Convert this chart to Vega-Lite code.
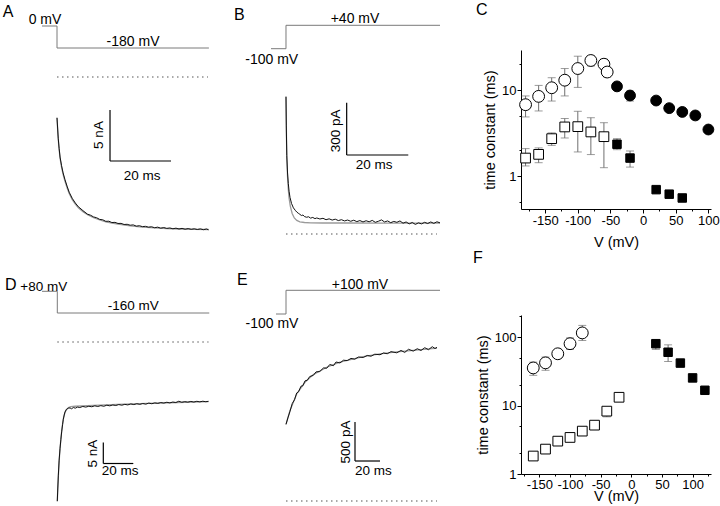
{
"$schema":"https://vega.github.io/schema/vega-lite/v6.json",
"autosize":"pad",
"padding":{"left":0,"top":2,"right":0,"bottom":0},
"background":"white",
"config":{
  "font":"Liberation Sans",
  "view":{"stroke":null},
  "axis":{"domainColor":"black","tickColor":"black","labelColor":"black","titleColor":"black","labelFontSize":13,"titleFontSize":14.5,"titleFontWeight":"normal","grid":false,"labelPadding":1,"labelFlush":false,"labelOverlap":false,"tickWidth":1,"domainWidth":1},
  "axisX":{"labelPadding":1.5,"titlePadding":8},
  "axisY":{"titlePadding":4},
  "title":{"fontSize":16,"fontWeight":"normal","color":"black","anchor":"start","frame":"group"},
  "text":{"color":"black"}
},
"datasets":{
  "A_fit":[{"t":0,"I":-4.0},{"t":0.3,"I":-5.6},{"t":0.6,"I":-6.8},{"t":1.0,"I":-7.95},{"t":1.5,"I":-8.85},{"t":2.0,"I":-9.55},{"t":2.6,"I":-10.2},{"t":3.3,"I":-10.85},{"t":4.0,"I":-11.42},{"t":5.0,"I":-12.02},{"t":6.0,"I":-12.47},{"t":7.0,"I":-12.82},{"t":8.5,"I":-13.2},{"t":10,"I":-13.5},{"t":12,"I":-13.8},{"t":14,"I":-14.02},{"t":16,"I":-14.2},{"t":18,"I":-14.33},{"t":20,"I":-14.43},{"t":24,"I":-14.6},{"t":28,"I":-14.72},{"t":32,"I":-14.8},{"t":36,"I":-14.86},{"t":40,"I":-14.9},{"t":45,"I":-14.93},{"t":49.7,"I":-14.95}],
  "A_rec":[{"t":0,"I":-4.0},{"t":0.2,"I":-5.0},{"t":0.4,"I":-6.0},{"t":0.7,"I":-7.0},{"t":1.0,"I":-7.85},{"t":1.5,"I":-8.7},{"t":2.0,"I":-9.4},{"t":2.6,"I":-10.05},{"t":3.3,"I":-10.7},{"t":4.0,"I":-11.3},{"t":5.0,"I":-11.9},{"t":6.0,"I":-12.35},{"t":7.0,"I":-12.72},{"t":8.5,"I":-13.1},{"t":10,"I":-13.45},{"t":11,"I":-13.55},{"t":12,"I":-13.72},{"t":13,"I":-13.8},{"t":14,"I":-13.96},{"t":15,"I":-14.0},{"t":16,"I":-14.15},{"t":17,"I":-14.14},{"t":18,"I":-14.27},{"t":19,"I":-14.25},{"t":20,"I":-14.36},{"t":21,"I":-14.35},{"t":22,"I":-14.46},{"t":23,"I":-14.44},{"t":24,"I":-14.53},{"t":25,"I":-14.5},{"t":26,"I":-14.62},{"t":27,"I":-14.58},{"t":28,"I":-14.67},{"t":29,"I":-14.64},{"t":30,"I":-14.72},{"t":31,"I":-14.68},{"t":32,"I":-14.78},{"t":33,"I":-14.72},{"t":34,"I":-14.82},{"t":35,"I":-14.76},{"t":36,"I":-14.84},{"t":37,"I":-14.8},{"t":38,"I":-14.88},{"t":39,"I":-14.82},{"t":40,"I":-14.9},{"t":41,"I":-14.84},{"t":42,"I":-14.92},{"t":43,"I":-14.86},{"t":44,"I":-14.93},{"t":45,"I":-14.88},{"t":46,"I":-14.95},{"t":47,"I":-14.89},{"t":48,"I":-14.97},{"t":49,"I":-14.9},{"t":49.7,"I":-14.98}],
  "A_volt":[{"i":0,"t":-4.92,"v":0},{"i":1,"t":0,"v":0},{"i":2,"t":0,"v":-180},{"i":3,"t":49.8,"v":-180}],
  "A_vtext":[{"t":-3.93,"v":18.8,"label":"0 mV"},{"t":24.92,"v":-166.1,"label":"-180 mV"}],
  "A_zero":[{"t":0,"t2":49.5,"I":0}],
  "A_bar":[{"t":17.38,"t2":17.38,"I":-3.235,"I2":-8.235},{"t":17.38,"t2":37.38,"I":-8.235,"I2":-8.235}],
  "A_labels":[{"t":13.7,"I":-5.686,"label":"5 nA","role":"amplitude"},{"t":27.87,"I":-9.7,"label":"20 ms","role":"time"},{"t":-17.8,"I":5.88,"label":"A","role":"panel"}],

  "B_fit":[{"t":0,"I":788},{"t":0.15,"I":560},{"t":0.3,"I":430},{"t":0.5,"I":330},{"t":0.75,"I":255},{"t":1.0,"I":205},{"t":1.4,"I":160},{"t":2.0,"I":118},{"t":2.7,"I":92},{"t":3.5,"I":78},{"t":4.5,"I":70},{"t":6,"I":66},{"t":8,"I":64},{"t":12,"I":63},{"t":20,"I":63},{"t":30,"I":62},{"t":40,"I":62},{"t":50,"I":62}],
  "B_rec":[{"t":0,"I":788},{"t":0.1,"I":620},{"t":0.25,"I":450},{"t":0.5,"I":350},{"t":0.75,"I":290},{"t":1.0,"I":245},{"t":1.3,"I":210},{"t":1.8,"I":175},{"t":2.4,"I":150},{"t":3.0,"I":136},{"t":3.5,"I":126},{"t":4.0,"I":119},{"t":4.5,"I":113},{"t":5.0,"I":106},{"t":5.5,"I":109},{"t":6.0,"I":100},{"t":6.7,"I":96},{"t":7.3,"I":99},{"t":8.0,"I":91},{"t":8.7,"I":95},{"t":9.4,"I":88},{"t":10,"I":92},{"t":11,"I":86},{"t":12,"I":90},{"t":13,"I":82},{"t":14,"I":87},{"t":15,"I":80},{"t":16,"I":85},{"t":17,"I":77},{"t":18,"I":82},{"t":19,"I":75},{"t":20,"I":80},{"t":21,"I":73},{"t":22,"I":79},{"t":23,"I":71},{"t":24,"I":77},{"t":25,"I":69},{"t":26,"I":76},{"t":27,"I":70},{"t":28,"I":78},{"t":29,"I":67},{"t":30,"I":73},{"t":31,"I":81},{"t":32,"I":69},{"t":33,"I":75},{"t":34,"I":65},{"t":35,"I":72},{"t":36,"I":67},{"t":37,"I":75},{"t":38,"I":62},{"t":39,"I":69},{"t":40,"I":58},{"t":41,"I":66},{"t":42,"I":55},{"t":43,"I":64},{"t":44,"I":58},{"t":45,"I":67},{"t":46,"I":60},{"t":47,"I":69},{"t":48,"I":61},{"t":49,"I":70},{"t":50,"I":64}],
  "B_volt":[{"i":0,"t":-4.87,"v":-100},{"i":1,"t":0,"v":-100},{"i":2,"t":0,"v":40},{"i":3,"t":50,"v":40}],
  "B_vtext":[{"t":22.4,"v":50.8,"label":"+40 mV"},{"t":-4.64,"v":-189.7,"label":"-100 mV"}],
  "B_zero":[{"t":0,"t2":49,"I":0}],
  "B_bar":[{"t":19.7,"t2":19.7,"I":753.3,"I2":453.2},{"t":19.7,"t2":39.7,"I":453.2,"I2":453.2}],
  "B_labels":[{"t":16.2,"I":592,"label":"300 pA","role":"amplitude"},{"t":28.6,"I":395.9,"label":"20 ms","role":"time"},{"t":-16.88,"I":1227.8,"label":"B","role":"panel"}],

  "D_fit":[{"t":0,"I":-37.9},{"t":0.3,"I":-35.2},{"t":0.7,"I":-32.0},{"t":1.2,"I":-28.5},{"t":1.8,"I":-25.5},{"t":2.4,"I":-23.0},{"t":3.0,"I":-21.0},{"t":3.6,"I":-19.3},{"t":4.2,"I":-18.0},{"t":5.0,"I":-16.9},{"t":6.0,"I":-16.1},{"t":7.5,"I":-15.6},{"t":9,"I":-15.4},{"t":12,"I":-15.3},{"t":20,"I":-15.15},{"t":40,"I":-14.85},{"t":60,"I":-14.6},{"t":80,"I":-14.4},{"t":100.8,"I":-14.2}],
  "D_rec":[{"t":0,"I":-37.9},{"t":0.3,"I":-35.0},{"t":0.7,"I":-31.7},{"t":1.2,"I":-28.3},{"t":1.8,"I":-25.4},{"t":2.4,"I":-23.2},{"t":2.9,"I":-21.4},{"t":3.5,"I":-19.7},{"t":4.0,"I":-18.4},{"t":4.6,"I":-17.4},{"t":5.1,"I":-16.7},{"t":6,"I":-16.1},{"t":7.3,"I":-15.75},{"t":8.5,"I":-15.7},{"t":9.5,"I":-15.9},{"t":10.7,"I":-15.6},{"t":12,"I":-15.75},{"t":13.5,"I":-15.5},{"t":15,"I":-15.6},{"t":17,"I":-15.35},{"t":19,"I":-15.5},{"t":21,"I":-15.3},{"t":23,"I":-15.42},{"t":25,"I":-15.2},{"t":27,"I":-15.35},{"t":29,"I":-15.15},{"t":31,"I":-15.3},{"t":33,"I":-15.05},{"t":35,"I":-15.2},{"t":37,"I":-15.0},{"t":39,"I":-15.12},{"t":41,"I":-14.9},{"t":43,"I":-15.05},{"t":45,"I":-14.85},{"t":47,"I":-14.98},{"t":49,"I":-14.75},{"t":51,"I":-14.9},{"t":53,"I":-14.7},{"t":55,"I":-14.85},{"t":57,"I":-14.65},{"t":59,"I":-14.8},{"t":61,"I":-14.55},{"t":63,"I":-14.7},{"t":65,"I":-14.5},{"t":67,"I":-14.62},{"t":69,"I":-14.42},{"t":71,"I":-14.55},{"t":73,"I":-14.35},{"t":75,"I":-14.5},{"t":77,"I":-14.3},{"t":79,"I":-14.42},{"t":81,"I":-14.1},{"t":83,"I":-14.35},{"t":85,"I":-14.2},{"t":87,"I":-14.32},{"t":89,"I":-14.15},{"t":91,"I":-14.3},{"t":93,"I":-14.12},{"t":95,"I":-14.25},{"t":97,"I":-14.1},{"t":99,"I":-14.22},{"t":100.8,"I":-14.12}],
  "D_volt":[{"i":0,"t":-10.2,"v":80},{"i":1,"t":0,"v":80},{"i":2,"t":0,"v":-160},{"i":3,"t":101.3,"v":-160}],
  "D_vtext":[{"t":-9.07,"v":83.3,"label":"+80 mV"},{"t":50.67,"v":-130.1,"label":"-160 mV"}],
  "D_zero":[{"t":0,"t2":100.8,"I":0}],
  "D_bar":[{"t":30.67,"t2":30.67,"I":-23.93,"I2":-28.93},{"t":30.67,"t2":50.67,"I":-28.93,"I2":-28.93}],
  "D_labels":[{"t":24.0,"I":-26.6,"label":"5 nA","role":"amplitude"},{"t":41.8,"I":-30.79,"label":"20 ms","role":"time"},{"t":-34.87,"I":12.38,"label":"D","role":"panel"}],

  "E_fit":[{"t":0,"I":983},{"t":3.2,"I":1160},{"t":8.56,"I":1372},{"t":15.2,"I":1522},{"t":21.8,"I":1620},{"t":32.6,"I":1715},{"t":43.2,"I":1780},{"t":61.8,"I":1852},{"t":75.2,"I":1886},{"t":88.6,"I":1912},{"t":101.8,"I":1932},{"t":119.2,"I":1958},{"t":120.8,"I":1960}],
  "E_rec":[{"t":0,"I":983},{"t":1.5,"I":1065},{"t":3.2,"I":1150},{"t":5,"I":1250},{"t":6.8,"I":1298},{"t":8.56,"I":1385},{"t":10,"I":1400},{"t":12,"I":1472},{"t":13.5,"I":1478},{"t":15.2,"I":1540},{"t":17,"I":1548},{"t":19,"I":1596},{"t":21.8,"I":1610},{"t":24,"I":1655},{"t":27,"I":1660},{"t":30,"I":1706},{"t":32.6,"I":1702},{"t":35,"I":1750},{"t":38,"I":1735},{"t":40,"I":1782},{"t":43.2,"I":1770},{"t":46,"I":1805},{"t":49,"I":1800},{"t":52,"I":1828},{"t":55,"I":1818},{"t":58,"I":1846},{"t":61.8,"I":1840},{"t":65,"I":1866},{"t":68,"I":1856},{"t":71,"I":1882},{"t":75.2,"I":1875},{"t":78,"I":1898},{"t":81,"I":1888},{"t":84,"I":1915},{"t":88.6,"I":1900},{"t":92,"I":1930},{"t":95,"I":1905},{"t":98,"I":1945},{"t":101.8,"I":1922},{"t":105,"I":1952},{"t":108,"I":1930},{"t":111,"I":1965},{"t":114,"I":1940},{"t":117,"I":1978},{"t":119.2,"I":1955},{"t":120.8,"I":1970}],
  "E_volt":[{"i":0,"t":-8,"v":-100},{"i":1,"t":0,"v":-100},{"i":2,"t":0,"v":100},{"i":3,"t":123.2,"v":100}],
  "E_vtext":[{"t":59.2,"v":106.8,"label":"+100 mV"},{"t":-11.2,"v":-218.1,"label":"-100 mV"}],
  "E_zero":[{"t":0,"t2":120.8,"I":0}],
  "E_bar":[{"t":55.2,"t2":55.2,"I":1012.8,"I2":512.8},{"t":55.2,"t2":75.2,"I":512.8,"I2":512.8}],
  "E_labels":[{"t":48,"I":756.4,"label":"500 pA","role":"amplitude"},{"t":69.8,"I":380.8,"label":"20 ms","role":"time"},{"t":-39.2,"I":2769,"label":"E","role":"panel"}],

  "C_pts":[
    {"v":-180,"tau":6.8,"lo":4.9,"hi":8.6,"kind":"open circle"},
    {"v":-160,"tau":8.5,"lo":5.75,"hi":11.4,"kind":"open circle"},
    {"v":-140,"tau":10.7,"lo":7.5,"hi":14.0,"kind":"open circle"},
    {"v":-120,"tau":13.1,"lo":8.6,"hi":17.9,"kind":"open circle"},
    {"v":-100,"tau":17.9,"lo":10.8,"hi":24.9,"kind":"open circle"},
    {"v":-80,"tau":22.2,"lo":19.2,"hi":25.0,"kind":"open circle"},
    {"v":-60,"tau":20.1,"lo":17.5,"hi":23.0,"kind":"open circle"},
    {"v":-55,"tau":16.3,"lo":14.3,"hi":18.5,"kind":"open circle"},
    {"v":-40,"tau":11.1,"lo":10.2,"hi":12.0,"kind":"filled circle"},
    {"v":-20,"tau":8.7,"lo":7.5,"hi":9.8,"kind":"filled circle"},
    {"v":20,"tau":7.6,"lo":7.0,"hi":8.2,"kind":"filled circle"},
    {"v":40,"tau":6.2,"lo":5.8,"hi":6.6,"kind":"filled circle"},
    {"v":60,"tau":5.6,"lo":5.3,"hi":5.9,"kind":"filled circle"},
    {"v":80,"tau":5.1,"lo":4.6,"hi":5.6,"kind":"filled circle"},
    {"v":100,"tau":3.5,"lo":3.3,"hi":3.7,"kind":"filled circle"},
    {"v":-180,"tau":1.63,"lo":1.32,"hi":2.1,"kind":"open square"},
    {"v":-160,"tau":1.8,"lo":1.44,"hi":2.14,"kind":"open square"},
    {"v":-140,"tau":2.74,"lo":2.29,"hi":3.2,"kind":"open square"},
    {"v":-120,"tau":3.75,"lo":2.79,"hi":4.7,"kind":"open square"},
    {"v":-100,"tau":3.78,"lo":1.92,"hi":5.7,"kind":"open square"},
    {"v":-80,"tau":3.28,"lo":1.79,"hi":4.8,"kind":"open square"},
    {"v":-60,"tau":2.89,"lo":1.26,"hi":4.2,"kind":"open square"},
    {"v":-40,"tau":2.36,"lo":2.04,"hi":2.74,"kind":"filled square"},
    {"v":-20,"tau":1.63,"lo":1.28,"hi":1.97,"kind":"filled square"},
    {"v":20,"tau":0.7,"lo":null,"hi":null,"kind":"filled square"},
    {"v":40,"tau":0.62,"lo":null,"hi":null,"kind":"filled square"},
    {"v":60,"tau":0.56,"lo":null,"hi":null,"kind":"filled square"}
  ],
  "F_pts":[
    {"v":-160,"tau":35.4,"lo":27.6,"hi":43,"kind":"open circle"},
    {"v":-140,"tau":42,"lo":32.7,"hi":51,"kind":"open circle"},
    {"v":-120,"tau":57,"lo":50,"hi":64,"kind":"open circle"},
    {"v":-100,"tau":80,"lo":66,"hi":97,"kind":"open circle"},
    {"v":-80,"tau":115,"lo":89,"hi":148,"kind":"open circle"},
    {"v":-160,"tau":1.83,"lo":null,"hi":null,"kind":"open square"},
    {"v":-140,"tau":2.31,"lo":2.15,"hi":2.5,"kind":"open square"},
    {"v":-120,"tau":3.02,"lo":2.7,"hi":3.4,"kind":"open square"},
    {"v":-100,"tau":3.42,"lo":3.06,"hi":3.78,"kind":"open square"},
    {"v":-80,"tau":4.23,"lo":3.78,"hi":4.77,"kind":"open square"},
    {"v":-60,"tau":5.17,"lo":4.6,"hi":5.78,"kind":"open square"},
    {"v":-40,"tau":8.28,"lo":6.84,"hi":9.35,"kind":"open square"},
    {"v":-20,"tau":13.2,"lo":12.3,"hi":14,"kind":"open square"},
    {"v":40,"tau":80,"lo":66,"hi":91,"kind":"filled square"},
    {"v":60,"tau":60,"lo":44,"hi":77,"kind":"filled square"},
    {"v":80,"tau":41.7,"lo":null,"hi":null,"kind":"filled square"},
    {"v":100,"tau":25.3,"lo":null,"hi":null,"kind":"filled square"},
    {"v":120,"tau":16.7,"lo":null,"hi":null,"kind":"filled square"}
  ]
},
"bounds":"flush",
"align":"each",
"columns":3,
"spacing":{"row":106,"column":20},
"concat":[
  {"width":230,"height":159,"resolve":{"scale":{"y":"independent"}},
   "layer":[
    {"layer":[
      {"data":{"name":"A_fit"},"mark":{"type":"line","stroke":"#9a9a9a","strokeWidth":1.3},"encoding":{"x":{"field":"t","type":"quantitative","scale":{"domain":[-18.69,56.72],"nice":false,"zero":false},"axis":null},"y":{"field":"I","type":"quantitative","scale":{"domain":[-12.941,2.647],"nice":false,"zero":false},"axis":null}}},
      {"data":{"name":"A_rec"},"mark":{"type":"line","stroke":"#111111","strokeWidth":1},"encoding":{"x":{"field":"t","type":"quantitative","scale":{"domain":[-18.69,56.72],"nice":false,"zero":false},"axis":null},"y":{"field":"I","type":"quantitative","scale":{"domain":[-12.941,2.647],"nice":false,"zero":false},"axis":null}}},
      {"data":{"name":"A_zero"},"mark":{"type":"rule","stroke":"#555555","strokeDash":[1.5,3.5],"strokeWidth":1.2},"encoding":{"x":{"field":"t","type":"quantitative","scale":{"domain":[-18.69,56.72],"nice":false,"zero":false},"axis":null},"x2":{"field":"t2"},"y":{"field":"I","type":"quantitative","scale":{"domain":[-12.941,2.647],"nice":false,"zero":false},"axis":null}}},
      {"data":{"name":"A_bar"},"mark":{"type":"rule","stroke":"black","strokeWidth":1.2},"encoding":{"x":{"field":"t","type":"quantitative","scale":{"domain":[-18.69,56.72],"nice":false,"zero":false},"axis":null},"x2":{"field":"t2"},"y":{"field":"I","type":"quantitative","scale":{"domain":[-12.941,2.647],"nice":false,"zero":false},"axis":null},"y2":{"field":"I2"}}},
      {"data":{"name":"A_labels"},"transform":[{"filter":"datum.role === 'amplitude'"}],"mark":{"type":"text","angle":270,"fontSize":13.5,"align":"center","baseline":"middle"},"encoding":{"x":{"field":"t","type":"quantitative","scale":{"domain":[-18.69,56.72],"nice":false,"zero":false},"axis":null},"y":{"field":"I","type":"quantitative","scale":{"domain":[-12.941,2.647],"nice":false,"zero":false},"axis":null},"text":{"field":"label"}}},
      {"data":{"name":"A_labels"},"transform":[{"filter":"datum.role === 'time'"}],"mark":{"type":"text","fontSize":13.5,"align":"center","baseline":"middle"},"encoding":{"x":{"field":"t","type":"quantitative","scale":{"domain":[-18.69,56.72],"nice":false,"zero":false},"axis":null},"y":{"field":"I","type":"quantitative","scale":{"domain":[-12.941,2.647],"nice":false,"zero":false},"axis":null},"text":{"field":"label"}}},
      {"data":{"name":"A_labels"},"transform":[{"filter":"datum.role === 'panel'"}],"mark":{"type":"text","fontSize":16,"align":"left","baseline":"alphabetic"},"encoding":{"x":{"field":"t","type":"quantitative","scale":{"domain":[-18.69,56.72],"nice":false,"zero":false},"axis":null},"y":{"field":"I","type":"quantitative","scale":{"domain":[-12.941,2.647],"nice":false,"zero":false},"axis":null},"text":{"field":"label"}}}
    ]},
    {"layer":[
      {"data":{"name":"A_volt"},"mark":{"type":"line","stroke":"#7a7a7a","strokeWidth":1},"encoding":{"x":{"field":"t","type":"quantitative","scale":{"domain":[-18.69,56.72],"nice":false,"zero":false},"axis":null},"y":{"field":"v","type":"quantitative","scale":{"domain":[-1497.3,-196.36],"nice":false,"zero":false},"axis":null},"order":{"field":"i","type":"quantitative"}}},
      {"data":{"name":"A_vtext"},"mark":{"type":"text","fontSize":14,"align":"center","baseline":"alphabetic"},"encoding":{"x":{"field":"t","type":"quantitative","scale":{"domain":[-18.69,56.72],"nice":false,"zero":false},"axis":null},"y":{"field":"v","type":"quantitative","scale":{"domain":[-1497.3,-196.36],"nice":false,"zero":false},"axis":null},"text":{"field":"label"}}}
    ]}
   ]},
  {"width":251,"height":159,"resolve":{"scale":{"y":"independent"}},
   "layer":[
    {"layer":[
      {"data":{"name":"B_fit"},"mark":{"type":"line","stroke":"#9a9a9a","strokeWidth":1.3},"encoding":{"x":{"field":"t","type":"quantitative","scale":{"domain":[-11.688,69.805],"nice":false,"zero":false},"axis":null},"y":{"field":"I","type":"quantitative","scale":{"domain":[143.4,1055.6],"nice":false,"zero":false},"axis":null}}},
      {"data":{"name":"B_rec"},"mark":{"type":"line","stroke":"#111111","strokeWidth":1},"encoding":{"x":{"field":"t","type":"quantitative","scale":{"domain":[-11.688,69.805],"nice":false,"zero":false},"axis":null},"y":{"field":"I","type":"quantitative","scale":{"domain":[143.4,1055.6],"nice":false,"zero":false},"axis":null}}},
      {"data":{"name":"B_zero"},"mark":{"type":"rule","stroke":"#555555","strokeDash":[1.5,3.5],"strokeWidth":1.2},"encoding":{"x":{"field":"t","type":"quantitative","scale":{"domain":[-11.688,69.805],"nice":false,"zero":false},"axis":null},"x2":{"field":"t2"},"y":{"field":"I","type":"quantitative","scale":{"domain":[143.4,1055.6],"nice":false,"zero":false},"axis":null}}},
      {"data":{"name":"B_bar"},"mark":{"type":"rule","stroke":"black","strokeWidth":1.2},"encoding":{"x":{"field":"t","type":"quantitative","scale":{"domain":[-11.688,69.805],"nice":false,"zero":false},"axis":null},"x2":{"field":"t2"},"y":{"field":"I","type":"quantitative","scale":{"domain":[143.4,1055.6],"nice":false,"zero":false},"axis":null},"y2":{"field":"I2"}}},
      {"data":{"name":"B_labels"},"transform":[{"filter":"datum.role === 'amplitude'"}],"mark":{"type":"text","angle":270,"fontSize":13.5,"align":"center","baseline":"middle"},"encoding":{"x":{"field":"t","type":"quantitative","scale":{"domain":[-11.688,69.805],"nice":false,"zero":false},"axis":null},"y":{"field":"I","type":"quantitative","scale":{"domain":[143.4,1055.6],"nice":false,"zero":false},"axis":null},"text":{"field":"label"}}},
      {"data":{"name":"B_labels"},"transform":[{"filter":"datum.role === 'time'"}],"mark":{"type":"text","fontSize":13.5,"align":"center","baseline":"middle"},"encoding":{"x":{"field":"t","type":"quantitative","scale":{"domain":[-11.688,69.805],"nice":false,"zero":false},"axis":null},"y":{"field":"I","type":"quantitative","scale":{"domain":[143.4,1055.6],"nice":false,"zero":false},"axis":null},"text":{"field":"label"}}},
      {"data":{"name":"B_labels"},"transform":[{"filter":"datum.role === 'panel'"}],"mark":{"type":"text","fontSize":16,"align":"left","baseline":"alphabetic"},"encoding":{"x":{"field":"t","type":"quantitative","scale":{"domain":[-11.688,69.805],"nice":false,"zero":false},"axis":null},"y":{"field":"I","type":"quantitative","scale":{"domain":[143.4,1055.6],"nice":false,"zero":false},"axis":null},"text":{"field":"label"}}}
    ]},
    {"layer":[
      {"data":{"name":"B_volt"},"mark":{"type":"line","stroke":"#7a7a7a","strokeWidth":1},"encoding":{"x":{"field":"t","type":"quantitative","scale":{"domain":[-11.688,69.805],"nice":false,"zero":false},"axis":null},"y":{"field":"v","type":"quantitative","scale":{"domain":[-1059.1,-107.78],"nice":false,"zero":false},"axis":null},"order":{"field":"i","type":"quantitative"}}},
      {"data":{"name":"B_vtext"},"mark":{"type":"text","fontSize":14,"align":"center","baseline":"alphabetic"},"encoding":{"x":{"field":"t","type":"quantitative","scale":{"domain":[-11.688,69.805],"nice":false,"zero":false},"axis":null},"y":{"field":"v","type":"quantitative","scale":{"domain":[-1059.1,-107.78],"nice":false,"zero":false},"axis":null},"text":{"field":"label"}}}
    ]}
   ]},
  {"width":190,"height":159,
   "title":{"text":"C","dx":-45,"offset":32},
   "data":{"name":"C_pts"},
   "layer":[
    {"transform":[{"filter":"isValid(datum.lo)"}],
     "mark":{"type":"errorbar","color":"#707070","thickness":1,"ticks":{"size":8}},
     "encoding":{
      "x":{"field":"v","type":"quantitative","scale":{"domain":[-187,104],"nice":false,"zero":false},"axis":{"title":"V (mV)","values":[-175,-150,-125,-100,-75,-50,-25,0,25,50,75,100],"labelExpr":"datum.value % 50 === 0 ? '' + datum.value : ''","tickSize":{"condition":{"test":"datum.value % 50 !== 0","value":2},"value":4}}},
      "y":{"field":"lo","type":"quantitative","scale":{"type":"log","domain":[0.417,29.4],"nice":false},"axis":{"title":"time constant (ms)","values":[0.5,1,2,5,10,20],"labelExpr":"datum.value === 1 || datum.value === 10 ? '' + datum.value : ''","tickSize":{"condition":{"test":"datum.value === 1 || datum.value === 10","value":4},"value":2}}},
      "y2":{"field":"hi"}}},
    {"mark":{"type":"point","filled":true,"stroke":"black","strokeWidth":1,"opacity":1},
     "encoding":{
      "x":{"field":"v","type":"quantitative","scale":{"domain":[-187,104],"nice":false,"zero":false},"axis":{"title":"V (mV)","values":[-175,-150,-125,-100,-75,-50,-25,0,25,50,75,100],"labelExpr":"datum.value % 50 === 0 ? '' + datum.value : ''","tickSize":{"condition":{"test":"datum.value % 50 !== 0","value":2},"value":4}}},
      "y":{"field":"tau","type":"quantitative","scale":{"type":"log","domain":[0.417,29.4],"nice":false},"axis":{"title":"time constant (ms)","values":[0.5,1,2,5,10,20],"labelExpr":"datum.value === 1 || datum.value === 10 ? '' + datum.value : ''","tickSize":{"condition":{"test":"datum.value === 1 || datum.value === 10","value":4},"value":2}}},
      "shape":{"field":"kind","type":"nominal","scale":{"domain":["open circle","filled circle","open square","filled square"],"range":["circle","circle","square","square"]},"legend":null},
      "fill":{"field":"kind","type":"nominal","scale":{"domain":["open circle","filled circle","open square","filled square"],"range":["white","black","white","black"]},"legend":null},
      "size":{"field":"kind","type":"nominal","scale":{"domain":["open circle","filled circle","open square","filled square"],"range":[140,72,72,56]},"legend":null}}}
   ]},
  {"width":230,"height":159,"resolve":{"scale":{"y":"independent"}},
   "layer":[
    {"layer":[
      {"data":{"name":"D_fit"},"mark":{"type":"line","stroke":"#9a9a9a","strokeWidth":1.3},"encoding":{"x":{"field":"t","type":"quantitative","scale":{"domain":[-38.2,115.13],"nice":false,"zero":false},"axis":null},"y":{"field":"I","type":"quantitative","scale":{"domain":[-31.43,6.43],"nice":false,"zero":false},"axis":null}}},
      {"data":{"name":"D_rec"},"mark":{"type":"line","stroke":"#111111","strokeWidth":1},"encoding":{"x":{"field":"t","type":"quantitative","scale":{"domain":[-38.2,115.13],"nice":false,"zero":false},"axis":null},"y":{"field":"I","type":"quantitative","scale":{"domain":[-31.43,6.43],"nice":false,"zero":false},"axis":null}}},
      {"data":{"name":"D_zero"},"mark":{"type":"rule","stroke":"#555555","strokeDash":[1.5,3.5],"strokeWidth":1.2},"encoding":{"x":{"field":"t","type":"quantitative","scale":{"domain":[-38.2,115.13],"nice":false,"zero":false},"axis":null},"x2":{"field":"t2"},"y":{"field":"I","type":"quantitative","scale":{"domain":[-31.43,6.43],"nice":false,"zero":false},"axis":null}}},
      {"data":{"name":"D_bar"},"mark":{"type":"rule","stroke":"black","strokeWidth":1.2},"encoding":{"x":{"field":"t","type":"quantitative","scale":{"domain":[-38.2,115.13],"nice":false,"zero":false},"axis":null},"x2":{"field":"t2"},"y":{"field":"I","type":"quantitative","scale":{"domain":[-31.43,6.43],"nice":false,"zero":false},"axis":null},"y2":{"field":"I2"}}},
      {"data":{"name":"D_labels"},"transform":[{"filter":"datum.role === 'amplitude'"}],"mark":{"type":"text","angle":270,"fontSize":13.5,"align":"center","baseline":"middle"},"encoding":{"x":{"field":"t","type":"quantitative","scale":{"domain":[-38.2,115.13],"nice":false,"zero":false},"axis":null},"y":{"field":"I","type":"quantitative","scale":{"domain":[-31.43,6.43],"nice":false,"zero":false},"axis":null},"text":{"field":"label"}}},
      {"data":{"name":"D_labels"},"transform":[{"filter":"datum.role === 'time'"}],"mark":{"type":"text","fontSize":13.5,"align":"center","baseline":"middle"},"encoding":{"x":{"field":"t","type":"quantitative","scale":{"domain":[-38.2,115.13],"nice":false,"zero":false},"axis":null},"y":{"field":"I","type":"quantitative","scale":{"domain":[-31.43,6.43],"nice":false,"zero":false},"axis":null},"text":{"field":"label"}}},
      {"data":{"name":"D_labels"},"transform":[{"filter":"datum.role === 'panel'"}],"mark":{"type":"text","fontSize":16,"align":"left","baseline":"alphabetic"},"encoding":{"x":{"field":"t","type":"quantitative","scale":{"domain":[-38.2,115.13],"nice":false,"zero":false},"axis":null},"y":{"field":"I","type":"quantitative","scale":{"domain":[-31.43,6.43],"nice":false,"zero":false},"axis":null},"text":{"field":"label"}}}
    ]},
    {"layer":[
      {"data":{"name":"D_volt"},"mark":{"type":"line","stroke":"#7a7a7a","strokeWidth":1},"encoding":{"x":{"field":"t","type":"quantitative","scale":{"domain":[-38.2,115.13],"nice":false,"zero":false},"axis":null},"y":{"field":"v","type":"quantitative","scale":{"domain":[-1940.6,-182.1],"nice":false,"zero":false},"axis":null},"order":{"field":"i","type":"quantitative"}}},
      {"data":{"name":"D_vtext"},"mark":{"type":"text","fontSize":13.5,"align":"center","baseline":"alphabetic"},"encoding":{"x":{"field":"t","type":"quantitative","scale":{"domain":[-38.2,115.13],"nice":false,"zero":false},"axis":null},"y":{"field":"v","type":"quantitative","scale":{"domain":[-1940.6,-182.1],"nice":false,"zero":false},"axis":null},"text":{"field":"label"}}}
    ]}
   ]},
  {"width":251,"height":159,"resolve":{"scale":{"y":"independent"}},
   "layer":[
    {"layer":[
      {"data":{"name":"E_fit"},"mark":{"type":"line","stroke":"#9a9a9a","strokeWidth":1.3},"encoding":{"x":{"field":"t","type":"quantitative","scale":{"domain":[-28.8,172],"nice":false,"zero":false},"axis":null},"y":{"field":"I","type":"quantitative","scale":{"domain":[346.2,2384.6],"nice":false,"zero":false},"axis":null}}},
      {"data":{"name":"E_rec"},"mark":{"type":"line","stroke":"#111111","strokeWidth":1},"encoding":{"x":{"field":"t","type":"quantitative","scale":{"domain":[-28.8,172],"nice":false,"zero":false},"axis":null},"y":{"field":"I","type":"quantitative","scale":{"domain":[346.2,2384.6],"nice":false,"zero":false},"axis":null}}},
      {"data":{"name":"E_zero"},"mark":{"type":"rule","stroke":"#555555","strokeDash":[1.5,3.5],"strokeWidth":1.2},"encoding":{"x":{"field":"t","type":"quantitative","scale":{"domain":[-28.8,172],"nice":false,"zero":false},"axis":null},"x2":{"field":"t2"},"y":{"field":"I","type":"quantitative","scale":{"domain":[346.2,2384.6],"nice":false,"zero":false},"axis":null}}},
      {"data":{"name":"E_bar"},"mark":{"type":"rule","stroke":"black","strokeWidth":1.2},"encoding":{"x":{"field":"t","type":"quantitative","scale":{"domain":[-28.8,172],"nice":false,"zero":false},"axis":null},"x2":{"field":"t2"},"y":{"field":"I","type":"quantitative","scale":{"domain":[346.2,2384.6],"nice":false,"zero":false},"axis":null},"y2":{"field":"I2"}}},
      {"data":{"name":"E_labels"},"transform":[{"filter":"datum.role === 'amplitude'"}],"mark":{"type":"text","angle":270,"fontSize":13.5,"align":"center","baseline":"middle"},"encoding":{"x":{"field":"t","type":"quantitative","scale":{"domain":[-28.8,172],"nice":false,"zero":false},"axis":null},"y":{"field":"I","type":"quantitative","scale":{"domain":[346.2,2384.6],"nice":false,"zero":false},"axis":null},"text":{"field":"label"}}},
      {"data":{"name":"E_labels"},"transform":[{"filter":"datum.role === 'time'"}],"mark":{"type":"text","fontSize":13.5,"align":"center","baseline":"middle"},"encoding":{"x":{"field":"t","type":"quantitative","scale":{"domain":[-28.8,172],"nice":false,"zero":false},"axis":null},"y":{"field":"I","type":"quantitative","scale":{"domain":[346.2,2384.6],"nice":false,"zero":false},"axis":null},"text":{"field":"label"}}},
      {"data":{"name":"E_labels"},"transform":[{"filter":"datum.role === 'panel'"}],"mark":{"type":"text","fontSize":16,"align":"left","baseline":"alphabetic"},"encoding":{"x":{"field":"t","type":"quantitative","scale":{"domain":[-28.8,172],"nice":false,"zero":false},"axis":null},"y":{"field":"I","type":"quantitative","scale":{"domain":[346.2,2384.6],"nice":false,"zero":false},"axis":null},"text":{"field":"label"}}}
    ]},
    {"layer":[
      {"data":{"name":"E_volt"},"mark":{"type":"line","stroke":"#7a7a7a","strokeWidth":1},"encoding":{"x":{"field":"t","type":"quantitative","scale":{"domain":[-28.8,172],"nice":false,"zero":false},"axis":null},"y":{"field":"v","type":"quantitative","scale":{"domain":[-1450.2,-108.44],"nice":false,"zero":false},"axis":null},"order":{"field":"i","type":"quantitative"}}},
      {"data":{"name":"E_vtext"},"mark":{"type":"text","fontSize":14,"align":"center","baseline":"alphabetic"},"encoding":{"x":{"field":"t","type":"quantitative","scale":{"domain":[-28.8,172],"nice":false,"zero":false},"axis":null},"y":{"field":"v","type":"quantitative","scale":{"domain":[-1450.2,-108.44],"nice":false,"zero":false},"axis":null},"text":{"field":"label"}}}
    ]}
   ]},
  {"width":190,"height":159,
   "title":{"text":"F","dx":-48,"offset":44},
   "data":{"name":"F_pts"},
   "layer":[
    {"transform":[{"filter":"isValid(datum.lo)"}],
     "mark":{"type":"errorbar","color":"#707070","thickness":1,"ticks":{"size":8}},
     "encoding":{
      "x":{"field":"v","type":"quantitative","scale":{"domain":[-180,130],"nice":false,"zero":false},"axis":{"title":"V (mV)","titlePadding":-2,"labelPadding":1.5,"values":[-175,-150,-125,-100,-75,-50,-25,0,25,50,75,100,125],"labelExpr":"datum.value % 50 === 0 ? '' + datum.value : ''","tickSize":{"condition":{"test":"datum.value % 50 !== 0","value":2},"value":3}}},
      "y":{"field":"lo","type":"quantitative","scale":{"type":"log","domain":[1,210],"nice":false},"axis":{"title":"time constant (ms)","values":[1,2,5,10,20,50,100,200],"labelExpr":"datum.value === 1 || datum.value === 10 || datum.value === 100 ? '' + datum.value : ''","tickSize":{"condition":{"test":"datum.value === 1 || datum.value === 10 || datum.value === 100","value":4},"value":2}}},
      "y2":{"field":"hi"}}},
    {"mark":{"type":"point","filled":true,"stroke":"black","strokeWidth":1,"opacity":1},
     "encoding":{
      "x":{"field":"v","type":"quantitative","scale":{"domain":[-180,130],"nice":false,"zero":false},"axis":{"title":"V (mV)","titlePadding":-2,"labelPadding":1.5,"values":[-175,-150,-125,-100,-75,-50,-25,0,25,50,75,100,125],"labelExpr":"datum.value % 50 === 0 ? '' + datum.value : ''","tickSize":{"condition":{"test":"datum.value % 50 !== 0","value":2},"value":3}}},
      "y":{"field":"tau","type":"quantitative","scale":{"type":"log","domain":[1,210],"nice":false},"axis":{"title":"time constant (ms)","values":[1,2,5,10,20,50,100,200],"labelExpr":"datum.value === 1 || datum.value === 10 || datum.value === 100 ? '' + datum.value : ''","tickSize":{"condition":{"test":"datum.value === 1 || datum.value === 10 || datum.value === 100","value":4},"value":2}}},
      "shape":{"field":"kind","type":"nominal","scale":{"domain":["open circle","filled circle","open square","filled square"],"range":["circle","circle","square","square"]},"legend":null},
      "fill":{"field":"kind","type":"nominal","scale":{"domain":["open circle","filled circle","open square","filled square"],"range":["white","black","white","black"]},"legend":null},
      "size":{"field":"kind","type":"nominal","scale":{"domain":["open circle","filled circle","open square","filled square"],"range":[100,72,64,80]},"legend":null}}}
   ]}
]
}
